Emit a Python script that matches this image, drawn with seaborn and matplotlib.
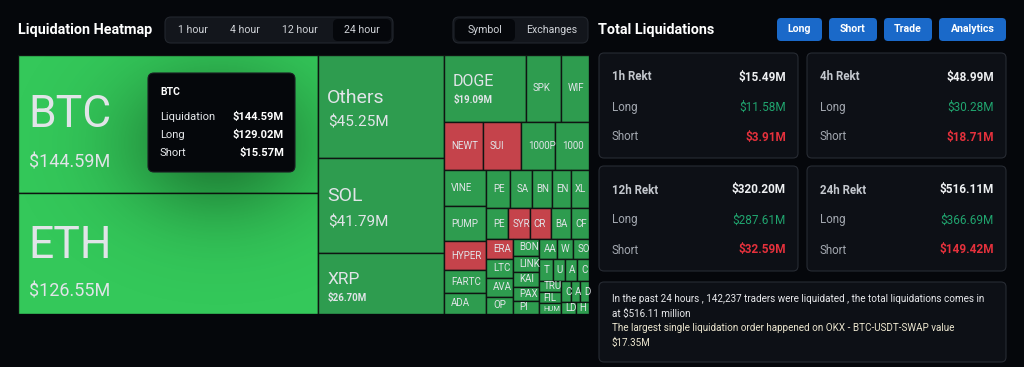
import numpy as np
import pandas as pd
import matplotlib
matplotlib.use("Agg")
import matplotlib.pyplot as plt
from matplotlib.patches import FancyBboxPatch
import seaborn as sns

# ---- treemap data: liquidations per symbol, USD millions (24 hour) ----
coins = ["BTC", "ETH", "Others", "SOL", "XRP", "DOGE", "SPK", "WIF", "NEWT", "SUI",
         "1000PEPE", "1000BONK", "VINE", "PUMP", "HYPER", "FARTCOIN", "ADA", "PENGU",
         "SAHARA", "BNB", "ENA", "XLM", "PEPE", "SYRUP", "CRV", "BABY", "CFX", "ERA",
         "LTC", "AVAX", "OP", "BONK", "LINK", "KAITO", "PAXG", "PI", "AAVE", "WLD",
         "SOPH", "TON", "UNI", "ARB", "CRO", "TRUMP", "FIL", "HUMA", "CAKE", "AI16Z",
         "DOT", "LDO", "H"]
liq = [144.59, 126.55, 45.25, 41.79, 26.70, 19.09, 8.2, 6.6, 6.5, 6.35,
       5.75, 5.6, 5.4, 5.1, 4.35, 3.3, 3.15, 3.1,
       3.0, 2.6, 2.5, 2.45, 2.4, 2.35, 2.3, 2.2, 1.95, 1.8,
       1.75, 1.7, 1.6, 1.55, 1.5, 1.4, 1.3, 1.25, 1.2, 1.15,
       1.1, 1.0, 0.95, 0.9, 0.9, 0.85, 0.85, 0.8, 0.75, 0.7,
       0.65, 0.6, 0.55]
short_heavy = ["NEWT", "SUI", "HYPER", "SYRUP", "CRV", "ERA"]
major = ["BTC", "ETH"]

# tooltip (hovered BTC)
tip_coin = "BTC"
tip_rows = ["Liquidation", "Long", "Short"]
tip_vals = ["$144.59M", "$129.02M", "$15.57M"]

# right-hand cards
card_titles = ["1h Rekt", "4h Rekt", "12h Rekt", "24h Rekt"]
card_total = ["$15.49M", "$48.99M", "$320.20M", "$516.11M"]
card_long = ["$11.58M", "$30.28M", "$287.61M", "$366.69M"]
card_short = ["$3.91M", "$18.71M", "$32.59M", "$149.42M"]

tabs_time = ["1 hour", "4 hour", "12 hour", "24 hour"]
tabs_group = ["Symbol", "Exchanges"]
buttons = ["Long", "Short", "Trade", "Analytics"]
summary = ["In the past 24 hours , 142,237 traders were liquidated , the total liquidations comes in",
           "at $516.11 million",
           "The largest single liquidation order happened on OKX - BTC-USDT-SWAP value",
           "$17.35M"]

BG = "#05070b"
CARD = "#0d1016"
CARD_EDGE = "#272b33"
GREEN_MAJOR = "#34c85a"
GREEN = "#2e9c4f"
RED = "#c5434b"
LBL = "#e1e4e8"
UI_FONT = ["Roboto", "DejaVu Sans"]
TM_FONT = ["Roboto", "DejaVu Sans"]


def squarify(values, width, height, ratio=0.5 * (1 + 5 ** 0.5)):
    """ECharts style squarified treemap, returns (x, y, w, h) per value."""
    vals = np.asarray(values, float)
    areas = vals / vals.sum() * width * height
    order = sorted(range(len(vals)), key=lambda i: -vals[i])
    rect = [0.0, 0.0, float(width), float(height)]
    out = [None] * len(vals)

    def worst(row, s, fixed):
        a = [areas[i] for i in row]
        f = fixed * fixed * ratio
        return max(f * max(a) / (s * s), (s * s) / (f * min(a)))

    def place(row, s, flush):
        horiz = rect[2] <= rect[3]
        fixed = rect[2] if horiz else rect[3]
        other = s / fixed
        avail = rect[3] if horiz else rect[2]
        if flush or other > avail:
            other = avail
        last = rect[0] if horiz else rect[1]
        end = last + fixed
        for k, i in enumerate(row):
            step = areas[i] / other
            remain = end - last
            step = remain if (k == len(row) - 1 or remain < step) else step
            if horiz:
                out[i] = (last, rect[1], step, other)
            else:
                out[i] = (rect[0], last, other, step)
            last += step
        if horiz:
            rect[1] += other
            rect[3] -= other
        else:
            rect[0] += other
            rect[2] -= other

    row, s, score, k = [], 0.0, np.inf, 0
    while k < len(order):
        i = order[k]
        row.append(i)
        s += areas[i]
        fixed = min(rect[2], rect[3])
        new = worst(row, s, fixed)
        if new <= score:
            k += 1
            score = new
        else:
            row.pop()
            s -= areas[i]
            place(row, s, False)
            row, s, score = [], 0.0, np.inf
    if row:
        place(row, s, True)
    return out


def rbox(ax, x0, y0, x1, y1, fc, ec="none", r=5, lw=0.8, z=1):
    ax.add_patch(FancyBboxPatch((x0, y0), x1 - x0, y1 - y0,
                                boxstyle=f"round,pad=0,rounding_size={r}",
                                fc=fc, ec=ec, lw=lw, zorder=z))


def main():
    sns.set_theme(style="dark", rc={"figure.facecolor": BG, "axes.facecolor": BG,
                                    "savefig.facecolor": BG})
    plt.rcParams["font.family"] = UI_FONT

    W, H = 1024, 367
    fig = plt.figure(figsize=(W / 100, H / 100), dpi=100)
    renderer = fig.canvas.get_renderer()

    # ---------- treemap ----------
    tm = (18, 55, 571, 259)  # left, top, width, height (px)
    ax = fig.add_axes([tm[0] / W, 1 - (tm[1] + tm[3]) / H, tm[2] / W, tm[3] / H], zorder=1)
    ax.set_xlim(0, tm[2])
    ax.set_ylim(tm[3], 0)
    ax.axis("off")

    df = pd.DataFrame(squarify(liq, tm[2], tm[3]), columns=["x", "y", "w", "h"])
    df["coin"] = coins
    df["value"] = liq
    df["color"] = [GREEN_MAJOR if c in major else RED if c in short_heavy else GREEN
                   for c in coins]
    ax.bar(df["x"], df["h"], width=df["w"], bottom=df["y"], align="edge",
           color=df["color"], edgecolor="#0f1512", linewidth=1.0, zorder=1)

    # hover shadow of the tooltip over the left column
    x1 = df.loc[df.coin == "BTC", "w"].iloc[0]
    gx, gy = np.meshgrid(np.linspace(0, x1, 300), np.linspace(0, tm[3], 260))
    alpha = 0.42 * np.exp(-((gx - 200) / 95) ** 2 - ((gy - 88) / 75) ** 2)
    rgba = np.zeros(gx.shape + (4,))
    rgba[..., 1] = 0.08
    rgba[..., 3] = alpha
    ax.imshow(rgba, extent=(0, x1, tm[3], 0), aspect="auto", zorder=2,
              interpolation="bilinear")
    ax.set_xlim(0, tm[2])
    ax.set_ylim(tm[3], 0)

    # labels: (name pt, value pt, name dy, value dy) for the six biggest
    big_style = [(32, 13, 3, 43), (32, 13, 4, 43), (14, 11, -4, 20), (14, 11, -5, 21),
                 (12.5, 7, 0, 17), (11.5, 7, -2, 15)]
    rank = df["value"].rank(ascending=False, method="first").astype(int) - 1
    for i, r in df.iterrows():
        cy = r.y + r.h / 2
        k = rank[i]
        if k < len(big_style):
            fn, fv, dn, dv = big_style[k]
            pad = 10 if k < 2 else 9
            ax.text(r.x + pad, cy + dn, r.coin, fontsize=fn, color=LBL, va="baseline",
                    family=TM_FONT, zorder=3)
            ax.text(r.x + pad + 1, cy + dv, f"${r.value:.2f}M", fontsize=fv, color=LBL,
                    va="baseline", family=TM_FONT, zorder=3,
                    fontweight="normal" if k < 4 else "bold")
        else:
            # small names: cut to what fits inside the cell (as the web view clips them)
            pad = 7 if r.w > 22 else 4
            fs = 7.0 if r.h >= 11 else 5.5
            t = ax.text(r.x + pad, cy, r.coin, fontsize=fs, color=LBL, va="center",
                        family=TM_FONT, zorder=3)
            name = r.coin
            while len(name) > 1 and t.get_window_extent(renderer).width > r.w - pad + 1:
                name = name[:-1]
                t.set_text(name)

    # ---------- UI overlay ----------
    ui = fig.add_axes([0, 0, 1, 1], zorder=5)
    ui.set_xlim(0, W)
    ui.set_ylim(H, 0)
    ui.axis("off")
    ui.patch.set_visible(False)

    # tooltip
    rbox(ui, 148, 73, 295, 172, "#05070b", "#1a1d22", r=6, z=3)
    ui.text(160, 92, tip_coin, fontsize=7.5, color="white", fontweight="bold", va="center")
    for j, (lab, val) in enumerate(zip(tip_rows, tip_vals)):
        y = 117 + 18 * j
        ui.text(160, y, lab, fontsize=8, color="#e6e8eb", va="center")
        ui.text(284, y, val, fontsize=8, color="white", fontweight="bold",
                va="center", ha="right")

    # header left
    ui.text(18, 30, "Liquidation Heatmap", fontsize=10.4, color="white",
            fontweight="bold", va="center")
    rbox(ui, 165, 17, 393, 43, "#13161c", "#23272e", r=6, z=1)
    rbox(ui, 333, 19, 391, 41, BG, r=5, z=2)
    for lab, cx in zip(tabs_time, [193, 245, 300, 362]):
        ui.text(cx, 30, lab, fontsize=7.6, color="#d0d3d8", va="center", ha="center", zorder=3)
    rbox(ui, 453, 17, 588, 43, "#13161c", "#23272e", r=6, z=1)
    rbox(ui, 455, 19, 515, 41, BG, r=5, z=2)
    for lab, cx in zip(tabs_group, [485, 552]):
        ui.text(cx, 30, lab, fontsize=7.6, color="#d0d3d8", va="center", ha="center", zorder=3)

    # header right
    ui.text(598, 30, "Total Liquidations", fontsize=10.4, color="white",
            fontweight="bold", va="center")
    for lab, (bx0, bx1) in zip(buttons, [(777, 822), (829, 877), (884, 932), (939, 1006)]):
        rbox(ui, bx0, 18, bx1, 41, "#1a69c9", r=4, z=1)
        ui.text((bx0 + bx1) / 2, 29.5, lab, fontsize=7.6, color="white",
                fontweight="bold", va="center", ha="center", zorder=3)

    # stat cards
    boxes = [(599, 53, 798, 158), (807, 53, 1006, 158),
             (599, 166, 798, 271), (807, 166, 1006, 271)]
    for (x0, y0, x1b, y1), ti, tot, lo, sh in zip(boxes, card_titles, card_total,
                                                  card_long, card_short):
        rbox(ui, x0, y0, x1b, y1, CARD, CARD_EDGE, r=5)
        lx, rx = x0 + 13, x1b - 12
        ui.text(lx, y0 + 24, ti, fontsize=8.3, color="#c4c8ce", fontweight="bold", va="center")
        ui.text(rx, y0 + 24, tot, fontsize=8.5, color="#eef0f2", fontweight="bold",
                va="center", ha="right")
        ui.text(lx, y0 + 54, "Long", fontsize=8.3, color="#a3a8b0", va="center")
        ui.text(rx, y0 + 54, lo, fontsize=8.5, color="#20a56f", va="center", ha="right")
        ui.text(lx, y0 + 84, "Short", fontsize=8.3, color="#a3a8b0", va="center")
        ui.text(rx, y0 + 84, sh, fontsize=8.5, color="#e5313c", fontweight="bold",
                va="center", ha="right")

    # summary card
    rbox(ui, 599, 282, 1006, 362, CARD, CARD_EDGE, r=5)
    for j, line in enumerate(summary):
        ui.text(612, 299 + 14.7 * j, line, fontsize=7.1,
                color="#e8e9ec" if j < 2 else "#ece6cf", va="center")

    fig.savefig("out.png", dpi=100, facecolor=BG)


if __name__ == "__main__":
    main()
